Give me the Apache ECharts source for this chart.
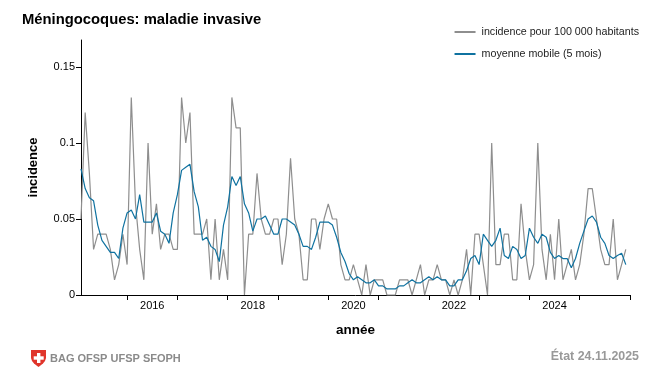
<!DOCTYPE html>
<html><head><meta charset="utf-8">
<style>html,body{margin:0;padding:0;background:#fff}#c{width:650px;height:368px}</style>
<script src="https://cdn.jsdelivr.net/npm/echarts@6/dist/echarts.min.js"></script>
</head><body><div id="c"></div>
<script>
const title = "Méningocoques: maladie invasive";
const startYear = 2015, startMonth = 1; // février 2015
const incidence = [.05,.12,.08,.03,.04,.04,.04,.03,.01,.02,.04,.02,.13,.06,.03,.01,.10,.04,.06,.03,.04,.04,.03,.03,.13,.10,.12,.04,.04,.04,.05,.01,.05,.01,.03,.01,.13,.11,.11,0,.04,.04,.08,.05,.04,.04,.05,.05,.02,.04,.09,.05,.04,.01,.01,.05,.05,.03,.05,.06,.05,.05,.02,.01,.01,.02,.01,0,.02,0,.01,.01,.01,0,0,0,.01,.01,.01,0,.01,.02,0,.01,.01,.02,.01,.01,0,.01,0,.01,.03,0,.04,.04,.02,0,.10,.02,.02,.04,.04,.01,.01,.06,.03,.01,.02,.10,.03,.01,.04,.01,.05,.01,.02,.03,.01,.02,.04,.07,.07,.05,.03,.02,.02,.05,.01,.02,.03];
const moyenne = [.083,.07,.064,.062,.046,.036,.032,.028,.028,.024,.044,.054,.056,.05,.066,.048,.048,.048,.054,.042,.04,.034,.054,.066,.082,.084,.086,.068,.058,.036,.038,.032,.03,.022,.046,.058,.078,.072,.078,.06,.054,.042,.05,.05,.052,.046,.04,.04,.05,.05,.048,.046,.04,.032,.032,.03,.038,.048,.048,.048,.046,.038,.028,.022,.014,.01,.012,.01,.008,.008,.01,.006,.006,.004,.004,.004,.006,.006,.008,.01,.008,.008,.01,.012,.01,.012,.01,.01,.006,.006,.01,.01,.016,.024,.026,.02,.04,.036,.032,.036,.044,.026,.024,.032,.03,.024,.026,.044,.038,.034,.04,.038,.028,.024,.026,.024,.024,.018,.024,.034,.042,.05,.052,.048,.038,.034,.026,.024,.026,.0275,.02];
const yearTicks = [2016,2017,2018,2019,2020,2021,2022,2023,2024,2025,2026];
const yearLabels = [2016,2018,2020,2022,2024];
const yTicks = [0,.05,.1,.15];
const names = ["incidence pour 100 000 habitants","moyenne mobile (5 mois)"];
const xOf = i => startYear + (startMonth + i)/12;
const font = "'Liberation Sans',Arial,sans-serif";
const chart = echarts.init(document.getElementById('c'),null,{renderer:'canvas'});
chart.setOption({
  animation:false,
  backgroundColor:'#fff',
  textStyle:{fontFamily:font},
  title:{text:title,left:22,top:12,padding:0,textStyle:{fontFamily:font,fontSize:14.8,fontWeight:'bold',color:'#000'}},
  grid:{left:81,right:20,top:40,bottom:73,containLabel:false},
  legend:{orient:'vertical',right:11,top:26,itemWidth:21,itemHeight:2,itemGap:10,icon:'rect',selectedMode:false,padding:0,
    data:names,textStyle:{fontFamily:font,fontSize:10.7,color:'#222',padding:[0,0,0,1],height:12,lineHeight:12}},
  xAxis:{type:'value',min:xOf(0),max:2026,name:'année',nameLocation:'middle',nameGap:28,
    nameTextStyle:{fontFamily:font,fontWeight:'bold',fontSize:13.5,color:'#000'},
    splitLine:{show:false},
    axisLine:{lineStyle:{color:'#000',width:1}},
    axisTick:{length:5,lineStyle:{color:'#000'},customValues:yearTicks},
    axisLabel:{color:'#000',fontSize:11,margin:5,customValues:yearLabels.map(y=>y+.5),formatter:v=>String(Math.floor(v))}},
  yAxis:{type:'value',min:0,max:.1678,name:'incidence',nameLocation:'middle',nameGap:41,
    nameTextStyle:{fontFamily:font,fontWeight:'bold',fontSize:13,color:'#000'},
    splitLine:{show:false},
    axisLine:{show:true,lineStyle:{color:'#000',width:1}},
    axisTick:{show:true,length:5,lineStyle:{color:'#000'},customValues:yTicks},
    axisLabel:{color:'#000',fontSize:11,margin:6,customValues:yTicks,formatter:v=>String(v)}},
  series:[
    {name:names[0],type:'line',symbol:'none',clip:false,data:incidence.map((v,i)=>[xOf(i),v]),
      lineStyle:{color:'#8e8e8e',width:1.2},itemStyle:{color:'#8e8e8e'}},
    {name:names[1],type:'line',symbol:'none',clip:false,data:moyenne.map((v,i)=>[xOf(i),v]),
      lineStyle:{color:'#0f72a0',width:1.2},itemStyle:{color:'#0f72a0'}}
  ],
  graphic:[
    {type:'group',left:31,top:350,children:[
      {type:'polygon',shape:{points:[[0,0],[15,0],[15,8],[14,11],[12,13.5],[7.5,17],[3,13.5],[1,11],[0,8]]},style:{fill:'#e0352b'}},
      {type:'rect',shape:{x:6,y:3,width:3.4,height:10},style:{fill:'#fff'}},
      {type:'rect',shape:{x:2.7,y:6.3,width:10,height:3.4},style:{fill:'#fff'}}
    ]},
    {type:'text',left:50,top:353,style:{text:'BAG OFSP UFSP SFOPH',fill:'#8a8a8a',font:'bold 11px '+font}},
    {type:'text',right:11,top:351,style:{text:'État 24.11.2025',fill:'#999999',font:'bold 12.4px '+font}}
  ]
});
</script></body></html>
